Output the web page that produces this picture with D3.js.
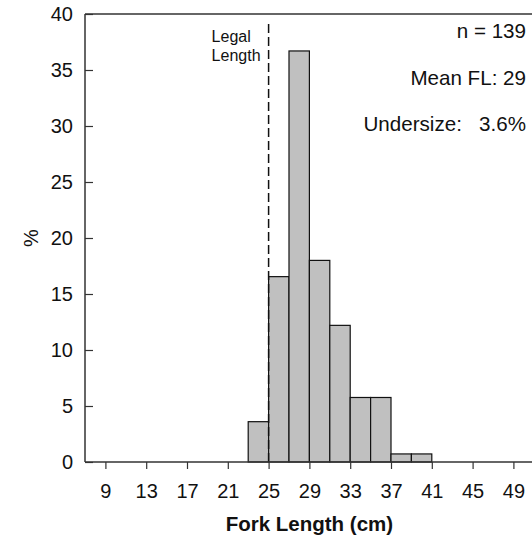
<!DOCTYPE html>
<html>
<head>
<meta charset="utf-8">
<script src="https://cdn.jsdelivr.net/npm/d3@7"></script>
<style>
  html, body { margin: 0; padding: 0; background: #fff; }
  svg { display: block; font-family: "Liberation Sans", Arial, sans-serif; }
</style>
</head>
<body>
<svg id="chart" width="532" height="540"></svg>
<script>
// Length-frequency histogram (2 cm bins), percent of catch
const binStarts = [23, 25, 27, 29, 31, 33, 35, 37, 39];
const binPercents = [3.6, 16.55, 36.7, 18.0, 12.2, 5.76, 5.76, 0.72, 0.72];
const binWidth = 2;
const xTicks = [9, 13, 17, 21, 25, 29, 33, 37, 41, 45, 49];
const yTicks = [0, 5, 10, 15, 20, 25, 30, 35, 40];
const legalLength = 25;
const notes = ["n = 139", "Mean FL: 29", "Undersize:   3.6%"];

const svg = d3.select("#chart");
const plotLeft = 85, plotTop = 14, plotBottom = 462, plotRight = 532;

const x = d3.scaleLinear().domain([7, 51]).range([plotLeft, plotLeft + 44 * 10.2]);
const y = d3.scaleLinear().domain([0, 40]).range([plotBottom, plotTop]);

// bars
svg.append("g").selectAll("rect")
  .data(binStarts.map((s, i) => ({ s, v: binPercents[i] })))
  .join("rect")
  .attr("x", d => x(d.s))
  .attr("y", d => y(d.v))
  .attr("width", d => x(d.s + binWidth) - x(d.s))
  .attr("height", d => y(0) - y(d.v))
  .attr("fill", "#c0c0c0")
  .attr("stroke", "#111")
  .attr("stroke-width", 1.2);

// legal length marker
svg.append("line")
  .attr("x1", x(legalLength)).attr("x2", x(legalLength))
  .attr("y1", 24).attr("y2", y(0))
  .attr("stroke", "#111").attr("stroke-width", 1.5)
  .attr("stroke-dasharray", "9,4");

svg.append("text")
  .attr("font-size", 16).attr("fill", "#111")
  .selectAll("tspan").data(["Legal", "Length"]).join("tspan")
  .attr("x", x(legalLength) - 57)
  .attr("y", (d, i) => 42 + i * 19)
  .text(d => d);

// y axis (ticks point inward)
const yAxis = d3.axisLeft(y).tickValues(yTicks).tickSize(-8).tickPadding(12);
const gy = svg.append("g").attr("transform", `translate(${plotLeft},0)`).call(yAxis);
gy.select(".domain").remove();
gy.selectAll(".tick line").attr("stroke", "#333").attr("stroke-width", 1.2);
gy.selectAll("text").attr("font-size", 20).attr("fill", "#111").attr("font-family", null);

// x axis (ticks point outward)
const xAxis = d3.axisBottom(x).tickValues(xTicks).tickSize(7).tickPadding(15);
const gx = svg.append("g").attr("transform", `translate(0,${plotBottom})`).call(xAxis);
gx.select(".domain").remove();
gx.selectAll(".tick line").attr("stroke", "#333").attr("stroke-width", 1.2);
gx.selectAll("text").attr("font-size", 20).attr("fill", "#111").attr("font-family", null);

// frame: left, top and bottom edges
const frame = svg.append("g").attr("stroke", "#333").attr("stroke-width", 1.5).attr("fill", "none");
frame.append("line").attr("x1", plotLeft).attr("x2", plotLeft).attr("y1", plotTop).attr("y2", plotBottom);
frame.append("line").attr("x1", plotLeft).attr("x2", plotRight).attr("y1", plotTop).attr("y2", plotTop);
frame.append("line").attr("x1", plotLeft).attr("x2", plotRight).attr("y1", plotBottom).attr("y2", plotBottom);

// axis titles
svg.append("text")
  .attr("x", x(29)).attr("y", 531)
  .attr("text-anchor", "middle").attr("font-size", 20.5).attr("font-weight", "bold")
  .attr("fill", "#111").text("Fork Length (cm)");

svg.append("text")
  .attr("transform", "translate(38,238) rotate(-90)")
  .attr("text-anchor", "middle").attr("font-size", 20).attr("fill", "#111")
  .text("%");

// summary notes
svg.append("g").selectAll("text").data(notes).join("text")
  .attr("x", 526)
  .attr("y", (d, i) => [38, 85, 131][i])
  .attr("text-anchor", "end").attr("font-size", 20.6).attr("fill", "#111")
  .attr("xml:space", "preserve")
  .style("white-space", "pre")
  .text(d => d);
</script>
</body>
</html>
